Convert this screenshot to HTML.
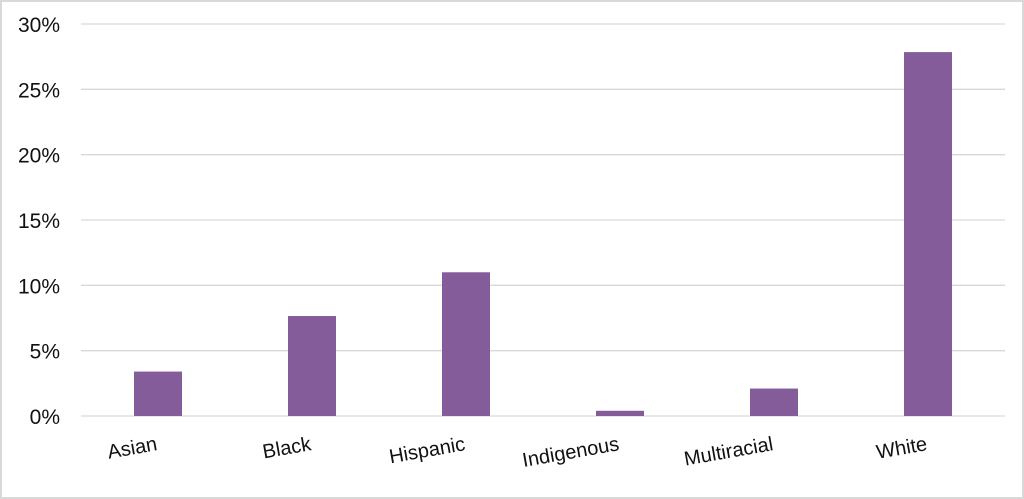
<!DOCTYPE html>
<html><head><meta charset="utf-8"><style>
html,body{margin:0;padding:0;background:#fff}
svg{display:block;font-family:"Liberation Sans",sans-serif}
</style></head><body>
<svg id="chart" width="1024" height="499" viewBox="0 0 1024 499">
<rect x="1" y="1" width="1022" height="497" fill="#fff" stroke="#d9d9d9" stroke-width="2"/>
<g id="grid"></g><g id="bars"></g><g id="labels"></g>
</svg>
<script>
const categories=["Asian","Black","Hispanic","Indigenous","Multiracial","White"];
const values=[3.4,7.65,11.0,0.4,2.1,27.85];
const ticks=[0,5,10,15,20,25,30];
const tickLabels=["0%","5%","10%","15%","20%","25%","30%"];
const NS="http://www.w3.org/2000/svg";
const x0=81,x1=1005,y0=416,y1=24,maxV=30;
const bw=(x1-x0)/categories.length;
function yS(v){return y0-(v/maxV)*(y0-y1);}
function xC(i){return x0+bw*(i+0.5);}
function mk(t,a,p){const e=document.createElementNS(NS,t);for(const k in a)e.setAttribute(k,a[k]);p.appendChild(e);return e;}
const g=document.getElementById('grid'),b=document.getElementById('bars'),l=document.getElementById('labels');
ticks.forEach((t,i)=>{
 const ln=mk('line',{x1:x0,x2:x1,y1:yS(t),y2:yS(t),stroke:'#d9d9d9','stroke-width':1.3},g);
 
 
 const tx=mk('text',{x:60,y:yS(t)+8,'text-anchor':'end','font-size':21,fill:'#111'},g);
 tx.textContent=tickLabels[i];
 
 
});
categories.forEach((c,i)=>{
 const r=mk('rect',{x:xC(i)-24,y:yS(values[i]),width:48,height:y0-yS(values[i]),fill:'#835c99'},b);
 
 
 const cx=xC(i),cy=450;
 const tx=mk('text',{x:cx,y:cy,'text-anchor':'end','font-size':20,fill:'#111',transform:`rotate(-10 ${cx} ${cy})`},l);
 tx.textContent=c;
 
 
});
</script>
</body></html>
